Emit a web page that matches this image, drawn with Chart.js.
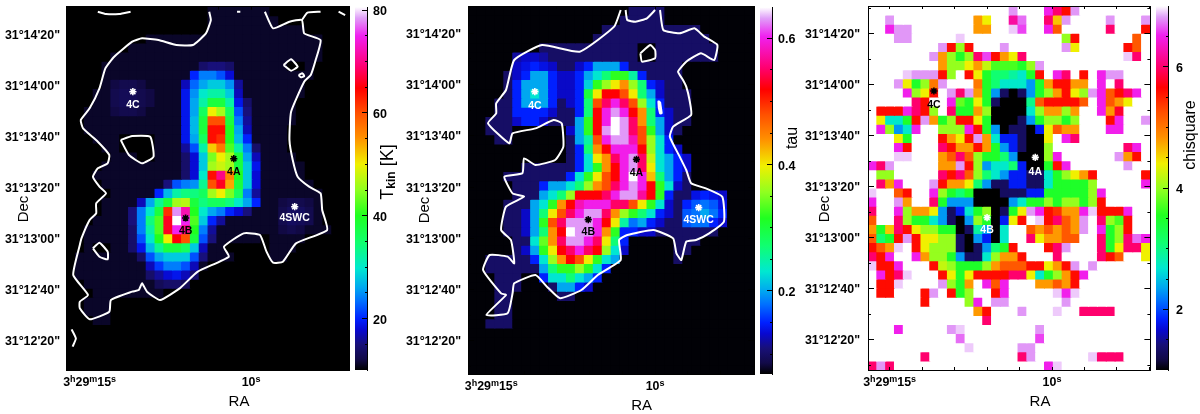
<!DOCTYPE html>
<html><head><meta charset="utf-8">
<style>html,body{margin:0;padding:0;background:#fff;width:1200px;height:414px;overflow:hidden}canvas{position:absolute;top:0}</style>
<script src="https://cdn.jsdelivr.net/npm/chart.js@4"></script>
</head><body>
<canvas id="mapA" width="355" height="414" style="left:0"></canvas>
<canvas id="barA" width="45" height="414" style="left:355px"></canvas>
<canvas id="mapB" width="360" height="414" style="left:400px"></canvas>
<canvas id="barB" width="40" height="414" style="left:760px"></canvas>
<canvas id="mapC" width="356" height="414" style="left:800px"></canvas>
<canvas id="barC" width="44" height="414" style="left:1156px"></canvas>
<script>
// ---- colour table: [fraction, colour]
const colourStops=[[0,'#000000'],[.03,'#120a48'],[.07,'#181078'],[.11,'#0808d0'],[.14,'#0020ff'],[.19,'#0070ff'],[.227,'#00a8f0'],[.28,'#00e8d0'],[.35,'#10ff70'],[.425,'#20ff20'],[.496,'#90ff20'],[.567,'#f0f000'],[.64,'#ff9000'],[.708,'#ff5000'],[.776,'#ff0000'],[.835,'#ff0070'],[.92,'#f020f0'],[.97,'#e0a0f8'],[1,'#ffffff']];

// ---- Tkin map [K]. Spans: per row, column ranges inside the contour. Runs: [startColumn, values...]
const tkinOutside=10, tkinFaint=11.2;
const tkinSpans=[[[16,22]],[[16,23]],[[16,26]],[[9,28]],[[7,28]],[[5,28]],[[4,24],[27,27]],[[4,27]],[[4,26]],[[3,26]],[[3,25]],[[2,25]],[[2,25]],[[2,24]],[[3,5],[10,24]],[[4,5],[10,24]],[[5,7],[10,25]],[[4,26]],[[3,26]],[[4,27]],[[5,28]],[[4,28]],[[4,28]],[[3,28]],[[2,29]],[[2,21],[23,26]],[[2,2],[5,17],[23,25]],[[1,18],[23,24]],[[1,15]],[[1,14]],[[2,12]],[[3,10]],[[2,4]],[[2,4]],[[3,4]]];
const tkinRuns=[[],[],[],[],[],[],
[[15,14,15,15,14]],
[[14,20,24,24,22,18]],
[[5,12,12.5,12.5,12],[13,17,23,26,28,28,25,16]],
[[5,12.5,13,13,12.5,12],[13,19,25,30,32,32,28,17]],
[[5,12.5,13,13,12.5,12],[13,19,26,32,38,38,32,19,14]],
[[5,12,12.5,12.5,12],[13,19,26,36,50,46,36,22,15]],
[[13,19,27,38,60,60,38,24,16]],
[[13,19,27,38,64,64,40,26,17]],
[[13,19,26,36,64,62,40,27,20]],
[[13,16,22,32,52,57,42,32,24,14]],
[[13,14,18,28,44,50,46,38,26,17]],
[[13,14,18,28,46,48,46,38,28,19]],
[[13,14,18,30,64,70,56,40,28,18]],
[[11,15,22,24,25,33,60,66,54,38,28,18]],
[[10,20,27,32,34,34,36,46,50,44,36,24,16]],
[[8,17,26,33,38,46,47,38,34,36,36,34,30,26,20],[24,12,12.5,12.5,12]],
[[7,15,24,30,38,62,78,72,40,30,26,24,20,18,15],[24,12.5,13.5,13.5,12.5]],
[[7,15,24,34,42,66,81,75,42,28,20,16],[24,12.5,13.5,13,12.5]],
[[7,14,24,32,42,66,75,70,40,24,16],[24,12,12.5,12]],
[[7,14,22,30,40,50,65,60,38,22,15]],
[[7,14,19,27,33,38,38,36,28,17]],
[[8,14,22,26,28,28,28,22,15]],
[[9,17,21,24,24,22,17]],
[[9,14,16,18,19,17,14]],
[[10,13,14,14,13]],[],[],[],[],[],[],[],[],[]];

// ---- tau map, in hundredths
const tauOutside=7, tauFaint=10;
const tauSpans=[[[18,21]],[[17,21]],[[15,25]],[[14,26]],[[8,18],[21,27]],[[5,18],[21,27]],[[5,23]],[[4,23]],[[4,23]],[[4,24]],[[3,24]],[[3,24]],[[2,24]],[[2,4],[11,23]],[[3,4],[11,22]],[[11,23]],[[11,23]],[[6,24]],[[4,24]],[[5,24]],[[5,28]],[[4,28]],[[4,28]],[[4,28]],[[4,27]],[[5,16],[23,25]],[[5,16],[23,24]],[[2,16],[23,23]],[[2,15]],[[3,5],[8,14]],[[3,5],[9,12]],[[3,4],[10,11]],[[3,4]],[[3,4]],[[2,4]]];
const tauRuns=[[],[],[],[],[],
[[5,12,13,13,12]],
[[5,13,14,15,14,13],[12,13,15,20,20,20,15]],
[[5,13,15,20,20,15,13],[11,13,15,20,23,27,32,32,25,15]],
[[5,15,20,20,20,15,13],[11,13,15,22,32,36,40,44,36,27,15,13]],
[[5,15,20,23,20,15,13],[11,13,15,30,40,52,52,48,40,27,20,13]],
[[5,15,20,20,20,15],[11,13,15,27,48,55,60,55,48,36,23,15]],
[[5,15,15,15,15,13],[12,15,27,52,60,63,60,52,44,27,15,13]],
[[5,13,15,15,13],[12,20,32,52,60,65,63,55,44,27,20,13]],
[[11,13,20,32,52,63,65,63,55,48,32,20,13]],
[[12,20,25,48,60,63,63,58,48,36,23,15]],
[[12,15,27,44,52,60,60,60,52,36,23,15,13]],
[[12,15,23,40,44,55,60,63,55,38,23,20,15,13]],
[[12,15,23,32,44,52,60,63,55,40,23,20,15,13]],
[[11,15,23,32,40,48,52,60,65,60,42,27,20,15]],
[[8,15,20,20,23,27,36,44,48,55,60,63,60,52,32,23,13]],
[[8,20,23,27,36,52,52,52,55,60,63,63,57,52,32,15],[25,14,15,14,13]],
[[7,20,23,32,44,52,58,60,60,60,55,55,48,40,32,23,13],[24,15,17,18,17,14]],
[[6,13,20,27,40,48,55,60,63,63,55,44,36,32,27,23,15,13],[24,17,18,20,18,15]],
[[6,13,20,32,48,55,63,63,63,60,52,40,25,18,20,15,13],[24,17,18,18,15,13]],
[[6,13,20,27,44,52,65,63,63,60,44,32,15,15,13,13]],
[[7,23,34,44,55,63,63,60,55,40,27,15]],
[[6,13,20,32,40,52,55,60,55,52,36,23,13]],
[[7,15,23,36,44,52,48,40,32,23,20]],
[[8,20,27,32,32,36,32,23,15]],
[[8,15,23,23,27,23,20,15]],
[[10,20,20,15,13]],[],[],[],[],[],[],[],[],[]];

// ---- chi-square map, in tenths (70 = top of the scale, drawn white)
const chiOutside=70;
const chiRuns=[
[[16,68],[20,65,60,56,68]],
[[2,68],[12,48,44],[16,62,67],[20,60,46,68],[27,68],[31,68]],
[[2,65,68,68],[12,48,48],[16,69,66],[20,65,52],[27,60],[31,56]],
[[3,68,68],[10,69],[22,40,56],[30,52]],
[[8,68,56,40,56],[15,68],[22,68,44],[29,56,52]],
[[7,68,48,40,35,40,60,66,56,48,44,60],[29,69,60]],
[[8,48,40,40,44,48,42,37,37,37,35,40,68]],
[[4,69,68,68,68,56,40,70,56,44,35,31,31,29,27,35,56],[21,65,60],[24,56],[26,65,68,68]],
[[3,68,44,35,40,50,68],[12,50,35,31,27,27,27,23,35,48,56,56,48,48],[26,65,70,60]],
[[4,65,40,44,56],[9,68,60,68,48,35,23,13,10,13,23,35,40,48,56,44,40,68,65,52,56,60,65]],
[[5,60,56],[9,65,38,35,44,35,13,10,10,10,30,52,56,56,56,56,52],[26,65,52,48,44]],
[[1,56,56,56,65,60,56,40],[9,60,35,35,48,40,10,10,10,10,27,40,48,48,40,48],[26,65,48,58]],
[[1,44,27,27,35,56,68,48,35,40,56,56,44,35,10,10,10,13,23,35,40,40,35,40],[27,56,65],[31,68]],
[[1,65,40,23,27,65],[8,40,40,40,65,56,35,23,10,13,13,10,18,44,52,48,48],[27,65,65]],
[[3,44,35],[8,56,48,44,56,68,48,27,18,18,13,10,10,44],[22,65,60]],
[[3,65,56],[8,60,56,48,48,56,48,35,23,18,13,10,10,40],[29,60,65]],
[[3,69,69],[8,48,52,60,52,40,35,35,31,23,10,10,10,40,65],[28,68,48,56]],
[[0,65,60,68],[8,48,48,68,56,40,23,27,27,31,18,10,10,35,56,65],[29,68]],
[[1,40,40],[8,60,56,60,52,40,31,27,23,18,18,13,13,27,35,40,44,48,56],[31,56]],
[[1,60,48,65],[7,68,56,48,48,44,31,23,13,13,18,18,13,13,27,35,35,35,35,40],[31,65]],
[[0,69],[3,52,56],[7,65,40,35,31,35,10,10,10,13,13,13,18,18,35,35,35,35,35,40,65]],
[[0,65],[3,68,48],[7,60,35,23,23,23,10,10,10,10,23,27,35,35,40,35,40,40,35,40,56]],
[[0,60],[3,65,40,48,48,44,23,13,18,27,35,40,10,13,35,44,68,65,56,54,48,48,65,69,56,56,56,65]],
[[0,52],[3,60,40,35,35,27,23,13,10,23,40,35,10,18,44,56,70,69,56,60,52,48,68],[26,60,40,37,56]],
[[0,48,35,46,60,56,44,40,40,35,35,10,13,29,23,10,27],[18,52,48,52,48,52,48,68],[26,65,35,40,56]],
[[0,52,31,35,56,68,56,44,44,40,40,13,10,23,18,10,27],[18,60,44,48,48,52,52],[26,60,35,40,60,67,65]],
[[0,56,52,48,69],[5,56,44,40,40,40,13,10,13,23,31,35,56],[20,56,60,68],[26,60,35,44,60,60,44]],
[[0,60,56,65],[5,65,48,40,40,35,23,13,13,27,40,48,48,56],[21,60],[26,60,56,52],[31,44]],
[[0,69,56,56,65],[7,56,42,40,35,35,35,40,48,52,52,52,56,56,44,48,56,68],[25,68]],
[[1,65,56,60,69],[8,56,44,35,44,56,56,56,56,60,60,44,27,35,40,48,56,65]],
[[1,56,56,69],[8,68,40,35,48],[13,65,52,65],[19,48,48,52,48,56]],
[[1,56,56],[6,56,68],[9,56,35,40],[14,56,65],[21,69,65,69]],
[[6,56],[11,40,65],[14,68,68],[22,68]],
[[12,48,56],[17,68],[21,69],[24,60,60,60,60]],
[[13,60]],
[[3,65],[9,68,69],[19,68]],
[[10,67],[19,66]],
[[11,69],[17,68,68]],
[[6,60],[17,60,68],[25,69,60,60,60]],
[[0,60,68,60],[20,65,69]]];

// ---- contours, in map units of each panel (1 unit = 1/3 image pixel)
const tkinContours=[
[[635,35],[640,60],[625,100],[585,135],[535,135],[480,120],[430,115],[400,125],[345,170],[318,205],[300,265],[270,325],[243,360],[250,385],[295,425],[330,465],[325,490],[295,505],[280,530],[300,560],[320,580],[290,610],[290,640],[270,660],[245,715],[240,735],[220,825],[265,885],[240,905],[240,925],[270,958],[330,935],[335,900],[400,875],[420,870],[430,850],[445,875],[485,900],[545,865],[600,815],[695,770],[680,740],[740,700],[790,705],[810,755],[830,788],[860,785],[900,730],[995,690],[980,630],[975,580],[940,560],[905,530],[890,480],[880,420],[885,335],[925,245],[945,225],[960,180],[975,120],[925,100],[918,60],[880,65],[830,85],[805,35]],
[[295,35],[320,42],[360,42],[395,35]],
[[720,35],[730,35]],
[[918,60],[935,38],[975,35]],
[[1030,35],[1050,45]],
[[365,420],[400,408],[455,410],[465,470],[430,490],[390,465],[365,420]],
[[280,745],[300,728],[325,755],[325,778],[300,770],[280,745]],
[[862,195],[885,178],[905,200],[885,212],[862,195]],
[[908,225],[920,220],[925,228],[915,232],[908,225]],
[[215,988],[228,1015],[218,1040]]];
const tauContours=[
[[670,30],[650,80],[545,155],[430,135],[345,180],[320,270],[290,310],[290,340],[265,370],[330,430],[340,400],[410,385],[465,360],[490,370],[495,440],[470,480],[410,495],[375,475],[370,520],[315,530],[340,580],[375,590],[320,620],[305,690],[335,720],[345,790],[325,770],[270,765],[250,810],[305,880],[320,885],[260,945],[325,940],[340,880],[345,850],[410,825],[445,860],[485,895],[550,870],[600,825],[670,780],[665,720],[690,705],[770,690],[830,715],[840,760],[855,780],[870,725],[900,720],[940,700],[985,665],[980,590],[930,565],[885,550],[870,510],[850,470],[820,410],[830,380],[885,345],[880,300],[870,260],[860,240],[845,215],[870,185],[915,160],[955,180],[965,135],[925,110],[895,85],[850,100],[800,90],[790,30]],
[[685,30],[690,60],[715,65],[750,55],[775,30]],
[[730,160],[760,135],[775,150],[775,175],[735,185],[730,160]],
[[790,305],[795,340],[790,340],[785,305],[790,305]]];

// ---- sources, in map units: name, star x, star y, label y, star colour
const tkinSources=[['4C',402,275,316,'#fff'],['4A',710,476,516,'#000'],['4B',563,654,692,'#000'],['4SWC',896,620,653,'#fff']];
const tauSources=[['4C',408,275,318,'#fff'],['4A',718,478,519,'#000'],['4B',571,659,697,'#000'],['4SWC',908,623,659,'#fff']];
const chiSources=[['4C',405,273,316,'#000'],['4A',714,472,515,'#fff'],['4B',567,653,690,'#fff']];

// ---- axis tick labels
const raSeconds=[15,14,13,12,11,10,9,8,7];
const raLabelled={15:[['3','h'],['29','m'],['15','s']],10:[['10','s']]};
const decMajor=[`31°14'20"`,`31°14'00"`,`31°13'40"`,`31°13'20"`,`31°13'00"`,`31°12'40"`,`31°12'20"`];
const tkinTicks=[20,40,60,80], tkinMinor=[15,25,30,35,45,50,55,65,70,75];
const tauTicks=[.2,.4,.6], tauMinor=[.1,.15,.25,.3,.35,.45,.5,.55];
const chiTicks=[2,4,6], chiMinor=[1.5,2.5,3,3.5,4.5,5,5.5,6.5];

const NCOL=32, NROW=40;
const FONT="'Liberation Sans',Arial,sans-serif";
const hex=h=>[1,3,5].map(i=>parseInt(h.substr(i,2),16));
function colourAt(t){
  t=Math.max(0,Math.min(1,t));
  for(let i=1;i<colourStops.length;i++){
    if(t<=colourStops[i][0]){
      const [a,ca]=colourStops[i-1],[b,cb]=colourStops[i],f=(t-a)/(b-a),A=hex(ca),B=hex(cb);
      return `rgb(${A.map((v,k)=>Math.round(v+(B[k]-v)*f)).join(',')})`;
    }
  }
  return '#fff';
}
function buildGrid(bg,faint,spans,runs){
  const g=[];
  for(let r=0;r<NROW;r++){
    const row=new Array(NCOL).fill(bg);
    (spans[r]||[]).forEach(([a,b])=>{for(let c=a;c<=b;c++)row[c]=faint;});
    (runs[r]||[]).forEach(run=>{for(let k=1;k<run.length;k++)row[run[0]+k-1]=run[k];});
    g.push(row);
  }
  return g;
}
const fit=(w,h)=>s=>{if(w!==undefined)s.width=w;if(h!==undefined)s.height=h;s.paddingTop=s.paddingBottom=s.paddingLeft=s.paddingRight=0;};
const setTicks=vals=>s=>{s.ticks=vals.map(v=>({value:v}));};
const markPlugin={id:'marks',afterDatasetsDraw(chart,a,opts){
  const ctx=chart.ctx;
  (opts.items||[]).forEach(it=>{
    ctx.save();
    const x=it.ux!==undefined?chart.scales.x.getPixelForValue(it.ux):it.x;
    const y=it.uy!==undefined?chart.scales.y.getPixelForValue(it.uy):it.y;
    ctx.translate(x,y);
    if(it.rot)ctx.rotate(it.rot);
    ctx.fillStyle=it.color||'#000';ctx.font=it.font;ctx.textAlign='center';ctx.textBaseline='middle';
    if(it.parts){
      ctx.textAlign='left';
      let tot=0;it.parts.forEach(p=>{ctx.font=p.font;tot+=ctx.measureText(p.t).width;});
      let cx=-tot/2;
      it.parts.forEach(p=>{ctx.font=p.font;ctx.fillText(p.t,cx,p.dy||0);cx+=ctx.measureText(p.t).width;});
    }else ctx.fillText(it.text,0,0);
    ctx.restore();
  });
}};
function sideAxis(position,axis,min,max,vals,rev,tl,w,h){
  return {type:'linear',axis,position,weight:0,offset:false,min,max,reverse:rev,afterBuildTicks:setTicks(vals),afterFit:fit(w,h),
    ticks:{display:false,autoSkip:false},
    grid:{offset:false,drawOnChartArea:false,drawTicks:true,tickLength:tl,tickColor:'#000',tickWidth:1,z:1},
    border:{display:true,color:'#000',width:1,z:1}};
}
function makeMap(id,cfg){
  const grid=cfg.grid, datasets=[];
  const cols=Array.from({length:NCOL},(_,i)=>i);
  grid.forEach((row,r)=>{
    datasets.push({type:'bar',xAxisID:'xCell',yAxisID:'yCell',grouped:false,order:5,
      data:row.map(()=>[r,r+1]),backgroundColor:row.map(v=>colourAt((v-cfg.vmin)/(cfg.vmax-cfg.vmin))),
      borderWidth:0,inflateAmount:0.5,categoryPercentage:1,barPercentage:1});
  });
  (cfg.contours||[]).forEach(c=>datasets.push({type:'scatter',xAxisID:'x',yAxisID:'y',order:2,showLine:true,
    data:c.map(p=>({x:p[0],y:p[1]})),borderColor:'#fff',borderWidth:2,pointRadius:0,tension:0.15,fill:false}));
  datasets.push({type:'scatter',xAxisID:'x',yAxisID:'y',order:1,
    data:cfg.sources.map(s=>({x:s[1],y:s[2]})),pointStyle:'star',pointRadius:3.6,pointBorderWidth:1.6,
    pointBorderColor:cfg.sources.map(s=>s[4]),borderColor:cfg.sources.map(s=>s[4]),backgroundColor:cfg.sources.map(s=>s[4])});
  const raPos=raSeconds.map(s=>cfg.ra15+(15-s)*cfg.raStep);
  const decPos=decMajor.map((_,i)=>cfg.dec0+i*cfg.decStep);
  const decMin=[cfg.dec0-cfg.decStep/2,...decMajor.map((_,i)=>cfg.dec0+(i+.5)*cfg.decStep)].filter(v=>v<cfg.ymax);
  const [xa,xb,ya,yb]=[cfg.xmin,cfg.xmax,cfg.ymin,cfg.ymax];
  const items=cfg.sources.map(s=>({text:s[0],ux:s[1],uy:s[3],color:s[4],font:`bold 10.5px ${FONT}`}));
  items.push({text:'Dec',x:cfg.decAt[0],y:cfg.decAt[1],rot:-Math.PI/2,font:`15px ${FONT}`});
  items.push({text:'RA',x:cfg.raAt[0],y:cfg.raAt[1],font:`15px ${FONT}`});
  raSeconds.forEach((s,i)=>{
    if(!raLabelled[s])return;
    const parts=[];
    raLabelled[s].forEach(([n,u])=>{parts.push({t:n,font:`bold 12.4px ${FONT}`});parts.push({t:u,font:`bold 9px ${FONT}`,dy:-3.5});});
    items.push({ux:raPos[i],y:cfg.raLabelY,parts});
  });
  new Chart(document.getElementById(id),{type:'bar',plugins:[markPlugin],data:{labels:cols,datasets},options:{
    responsive:false,animation:false,events:[],
    layout:{padding:cfg.pad},
    plugins:{legend:{display:false},tooltip:{enabled:false},marks:{items}},
    scales:{
      xCell:{type:'category',axis:'x',display:false,offset:true,labels:cols},
      yCell:{type:'linear',axis:'y',display:false,min:0,max:NROW,reverse:true},
      x:{type:'linear',position:'bottom',weight:1,offset:false,min:xa,max:xb,afterBuildTicks:setTicks(raPos),afterFit:fit(undefined,cfg.xHeight),
        ticks:{autoSkip:false,maxRotation:0,display:false},
        grid:{offset:false,drawOnChartArea:false,tickLength:-3,tickColor:'#000',z:1},border:{color:'#000',z:1}},
      xTop:sideAxis('top','x',xa,xb,raPos,false,-3,undefined,0),
      y:{type:'linear',position:'left',weight:1,min:ya,max:yb,reverse:true,afterBuildTicks:setTicks(decPos),afterFit:fit(cfg.yWidth,undefined),
        ticks:{autoSkip:false,padding:cfg.yPad,labelOffset:1,color:'#000',font:{family:FONT,size:12.4,weight:'bold'},
          callback:(v)=>decMajor[decPos.indexOf(v)]||''},
        grid:{drawOnChartArea:false,tickLength:-6,tickColor:'#000',z:1},border:{color:'#000',z:1}},
      yMinor:sideAxis('left','y',ya,yb,decMin,true,-3,0,undefined),
      yRight:sideAxis('right','y',ya,yb,decPos,true,-6,0,undefined),
      yRightMinor:sideAxis('right','y',ya,yb,decMin,true,-3,0,undefined)
    }}});
}
function makeBar(id,cfg){
  const gradient=c=>{
    const ca=c.chart.chartArea; if(!ca)return '#888';
    const g=c.chart.ctx.createLinearGradient(0,ca.bottom,0,ca.top);
    colourStops.forEach(([t,col])=>g.addColorStop(t,col));
    return g;
  };
  new Chart(document.getElementById(id),{type:'bar',plugins:[markPlugin],data:{labels:[cfg.name],datasets:[{xAxisID:'xBar',yAxisID:'y',data:[[cfg.vmin,cfg.vmax]],backgroundColor:gradient,borderWidth:0,categoryPercentage:1,barPercentage:1}]},options:{
    responsive:false,animation:false,events:[],layout:{padding:{top:cfg.top,bottom:414-cfg.bottom}},
    plugins:{legend:{display:false},tooltip:{enabled:false},marks:{items:[cfg.title]}},
    scales:{
      xBar:{type:'category',axis:'x',display:false,offset:true},
      y:{type:'linear',position:'right',weight:1,min:cfg.vmin,max:cfg.vmax,afterBuildTicks:setTicks(cfg.ticks),afterFit:fit(cfg.axisWidth,undefined),
        ticks:{autoSkip:false,padding:cfg.pad,labelOffset:1.5,color:'#000',font:{family:FONT,size:12.5,weight:'bold'},callback:v=>cfg.fmt(v)},
        grid:{drawOnChartArea:false,tickLength:-5,tickColor:'#000',z:1},border:{color:'#000',z:1}},
      yMinor:sideAxis('right','y',cfg.vmin,cfg.vmax,cfg.minor,false,-2,0,undefined)
    }}});
}
makeMap('mapA',{grid:buildGrid(tkinOutside,tkinFaint,tkinSpans,tkinRuns),vmin:10,vmax:80.6,contours:tkinContours,sources:tkinSources,
  xmin:200,xmax:1063,ymin:20,ymax:1110,ra15:270,raStep:98.6,dec0:103,decStep:153,
  pad:{top:6.7,right:.5},yWidth:66.7,xHeight:44,yPad:12.7,decAt:[24,209],raAt:[239,402],raLabelY:383});
makeBar('barA',{name:'Tkin',vmin:10,vmax:80.6,ticks:tkinTicks,minor:tkinMinor,top:7,bottom:370,axisWidth:33,pad:11,fmt:v=>String(v),
  title:{x:33,y:172,rot:-Math.PI/2,parts:[{t:'T',font:`18px ${FONT}`},{t:'kin',font:`bold 12px ${FONT}`,dy:4},{t:' [K]',font:`18px ${FONT}`}]}});
makeMap('mapB',{grid:buildGrid(tauOutside,tauFaint,tauSpans,tauRuns),vmin:6.86,vmax:64.9,contours:tauContours,sources:tauSources,
  xmin:204,xmax:1078,ymin:18,ymax:1122,ra15:275,raStep:100,dec0:100,decStep:153.8,
  pad:{top:6,right:.7},yWidth:68,xHeight:40,yPad:13,decAt:[25,210],raAt:[241.7,406],raLabelY:387});
makeBar('barB',{name:'tau',vmin:.0686,vmax:.649,ticks:tauTicks,minor:tauMinor,top:7.3,bottom:374,axisWidth:28,pad:11,fmt:v=>v.toFixed(1),
  title:{x:33,y:138,rot:-Math.PI/2,text:'tau',font:`16px ${FONT}`}});
makeMap('mapC',{grid:buildGrid(chiOutside,chiOutside,[],chiRuns),vmin:10,vmax:70,sources:chiSources,
  xmin:204,xmax:1065,ymin:18,ymax:1110,ra15:270,raStep:99,dec0:101,decStep:153,
  pad:{top:6,right:1},yWidth:68,xHeight:44,yPad:14,decAt:[25,209],raAt:[240,402],raLabelY:383});
makeBar('barC',{name:'chisquare',vmin:1,vmax:7,ticks:chiTicks,minor:chiMinor,top:6,bottom:370,axisWidth:32,pad:13,fmt:v=>String(v),
  title:{x:34.7,y:135,rot:-Math.PI/2,text:'chisquare',font:`16px ${FONT}`}});
</script>
</body></html>
